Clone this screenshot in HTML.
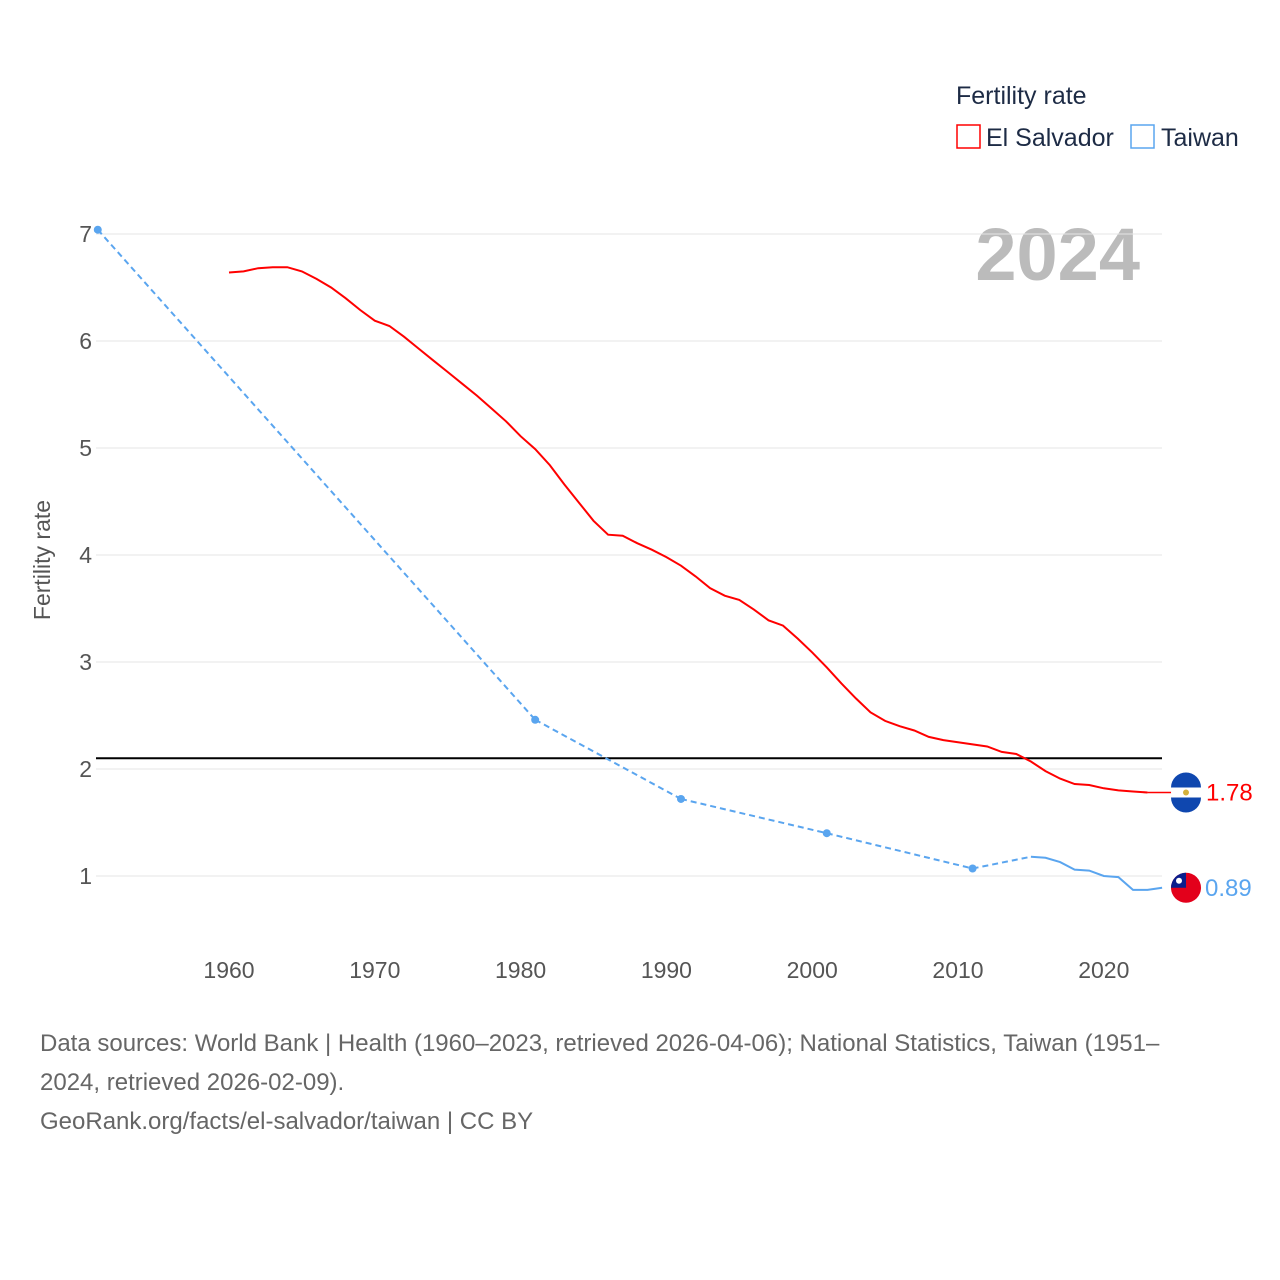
<!DOCTYPE html>
<html><head><meta charset="utf-8">
<style>
body{margin:0;background:#fff;font-family:"Liberation Sans",sans-serif;}
#wrap{position:relative;width:1280px;height:1280px;}
.src{position:absolute;left:40px;top:1024px;width:1230px;font-size:24px;line-height:39px;color:#666;white-space:nowrap;}
</style></head><body>
<div id="wrap">
<svg id="chart" width="1280" height="1000" style="position:absolute;left:0;top:0">
<text x="956" y="104" font-size="25" fill="#1d2b45">Fertility rate</text>
<rect x="957" y="125" width="23" height="23" fill="none" stroke="#f00" stroke-width="1.5"/>
<text x="986" y="146" font-size="25" fill="#1d2b45">El Salvador</text>
<rect x="1131" y="125" width="23" height="23" fill="none" stroke="#5aa5ef" stroke-width="1.5"/>
<text x="1161" y="146" font-size="25" fill="#1d2b45">Taiwan</text>
<text x="1140" y="280" font-size="74" font-weight="bold" fill="#bbb" text-anchor="end">2024</text>
<text transform="translate(50,560) rotate(-90)" font-size="23" fill="#555" text-anchor="middle">Fertility rate</text>
<g id="grid"></g><g id="marks"></g>
</svg>
<div class="src">Data sources: World Bank | Health (1960–2023, retrieved 2026-04-06); National Statistics, Taiwan (1951–<br>2024, retrieved 2026-02-09).<br>GeoRank.org/facts/el-salvador/taiwan | CC BY</div>
</div>
<script>
const yTicks=[1,2,3,4,5,6,7];
const xTicks=[1960,1970,1980,1990,2000,2010,2020];
const refValue=2.1;
const svYears=[];for(let y=1960;y<=2023;y++)svYears.push(y);
const svValues=[6.64,6.65,6.68,6.69,6.69,6.65,6.58,6.50,6.40,6.29,6.19,6.14,6.04,5.93,5.82,5.71,5.60,5.49,5.37,5.25,5.11,4.99,4.84,4.66,4.49,4.32,4.19,4.18,4.11,4.05,3.98,3.90,3.80,3.69,3.62,3.58,3.49,3.39,3.34,3.22,3.09,2.95,2.80,2.66,2.53,2.45,2.40,2.36,2.30,2.27,2.25,2.23,2.21,2.16,2.14,2.07,1.98,1.91,1.86,1.85,1.82,1.80,1.79,1.78];
const twYears=[1951,1981,1991,2001,2011,2015,2016,2017,2018,2019,2020,2021,2022,2023,2024];
const twValues=[7.04,2.46,1.72,1.40,1.07,1.18,1.17,1.13,1.06,1.05,1.00,0.99,0.87,0.87,0.89];
const X=y=>229+(y-1960)*14.58;
const Y=v=>876-(v-1)*107;
const NS='http://www.w3.org/2000/svg';
function mk(tag,attrs,parent,text){const e=document.createElementNS(NS,tag);for(const k in attrs)e.setAttribute(k,attrs[k]);if(text!==undefined)e.textContent=text;parent.appendChild(e);return e;}
const grid=document.getElementById('grid'),marks=document.getElementById('marks');
yTicks.forEach(v=>{
 const l=mk('line',{x1:96,x2:1162,y1:Y(v),y2:Y(v),stroke:'#e6e6e6'},grid);
 
 
 const t=mk('text',{x:92,y:Y(v)+8,'font-size':23,fill:'#555','text-anchor':'end'},grid,v);
 
 
});
xTicks.forEach(v=>{
 const t=mk('text',{x:X(v),y:978,'font-size':23,fill:'#555','text-anchor':'middle'},grid,v);
 
 
});
const ref=mk('line',{x1:96,x2:1162,y1:Y(refValue),y2:Y(refValue),stroke:'#000','stroke-width':2},marks);


function series(years,vals,color,name){
 let solid='';
 for(let i=0;i<years.length;i++){
  if(i>0&&years[i]-years[i-1]>1){
   const d=mk('line',{x1:X(years[i-1]),y1:Y(vals[i-1]),x2:X(years[i]),y2:Y(vals[i]),stroke:color,'stroke-width':2,'stroke-dasharray':'6,4'},marks);
   
   
   const c=mk('circle',{cx:X(years[i-1]),cy:Y(vals[i-1]),r:4,fill:color},marks);
   
   
  }
  const cont=i>0&&years[i]-years[i-1]==1;
  solid+=(cont?'L':'M')+X(years[i]).toFixed(1)+','+Y(vals[i]).toFixed(1);
 }
 const p=mk('path',{d:solid,fill:'none',stroke:color,'stroke-width':2},marks);
 
 
}
series(svYears,svValues,'#f00','el-salvador');
series(twYears,twValues,'#5aa5ef','taiwan');
const svLast=svValues[svValues.length-1],twLast=twValues[twValues.length-1];
const sl=mk('line',{x1:X(2023),x2:1172,y1:Y(svLast),y2:Y(svLast),stroke:'#f00','stroke-width':1.5},marks);


const f1=mk('g',{},marks);


mk('circle',{cx:1186,cy:Y(svLast),r:15,fill:'#fff'},f1);
mk('path',{d:`M1171,${Y(svLast)-5} A15,15 0 0 1 1201,${Y(svLast)-5}Z`,fill:'#0f47af'},f1);
mk('path',{d:`M1171,${Y(svLast)+5} A15,15 0 0 0 1201,${Y(svLast)+5}Z`,fill:'#0f47af'},f1);
mk('circle',{cx:1186,cy:Y(svLast),r:3,fill:'#d4b13c'},f1);
const t1=mk('text',{x:1206,y:Y(svLast)+8,'font-size':24,fill:'#f00'},marks,svLast.toFixed(2));


const f2=mk('g',{},marks);


mk('circle',{cx:1186,cy:Y(twLast),r:15,fill:'#e3001b'},f2);
mk('path',{d:`M1171,${Y(twLast)} A15,15 0 0 1 1186,${Y(twLast)-15} L1186,${Y(twLast)}Z`,fill:'#0a1e8c'},f2);
mk('circle',{cx:1179,cy:Y(twLast)-7,r:3,fill:'#fff'},f2);
const t2=mk('text',{x:1205,y:Y(twLast)+8,'font-size':24,fill:'#5aa5ef'},marks,twLast.toFixed(2));


</script>
</body></html>
